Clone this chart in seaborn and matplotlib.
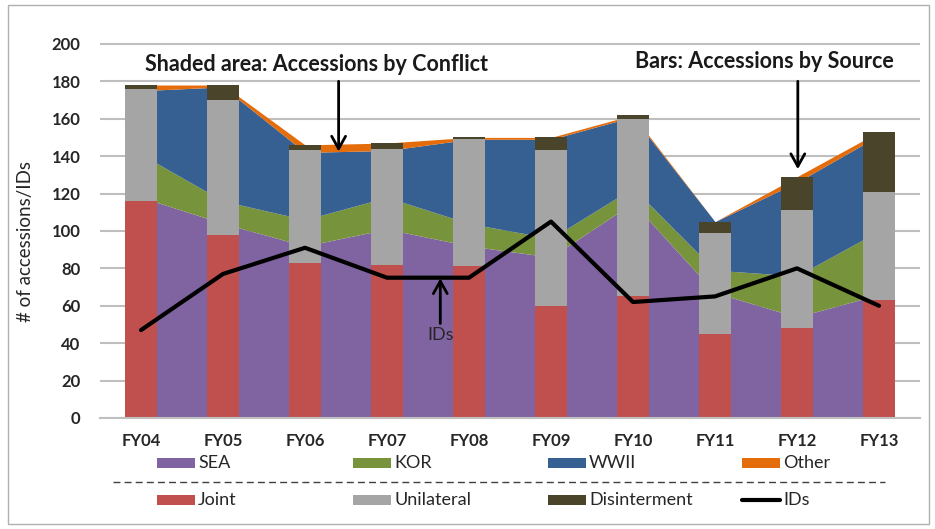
import numpy as np
import matplotlib
matplotlib.use("Agg")
import matplotlib.pyplot as plt
from matplotlib.patches import Rectangle
from matplotlib.lines import Line2D
import seaborn as sns

# values
years = ['FY04', 'FY05', 'FY06', 'FY07', 'FY08', 'FY09', 'FY10', 'FY11', 'FY12', 'FY13']

# shaded area: accessions by conflict
sea = [118, 104, 92, 101, 92, 86, 115, 67, 54, 66]
kor = [23, 12, 14, 17, 12, 10, 8, 12, 22, 34]
wwii = [34, 61, 36, 25, 45, 53, 38, 26, 50, 51]
other = [3, 1, 4, 4, 1, 1, 1, 0, 3, 2]

# bars: accessions by source
joint = [116, 98, 83, 82, 81, 60, 65, 45, 48, 63]
unilateral = [60, 72, 60, 62, 68, 83, 95, 54, 63, 58]
disinterment = [2, 8, 3, 3, 1, 7, 2, 6, 18, 32]

ids = [47, 77, 91, 75, 75, 105, 62, 65, 80, 60]

area_colors = ['#8064A2', '#77933C', '#376092', '#E46C0A']
bar_colors = ['#C0504D', '#A5A5A5', '#4A452A']

sns.set_theme(style="white")
plt.rcParams['font.family'] = ['Lato', 'DejaVu Sans']

fig = plt.figure(figsize=(9.35, 5.29), dpi=100)
ax = fig.add_axes([100 / 935, 111 / 529, 820 / 935, 376 / 529])

pos = np.arange(len(years))
ax.stackplot(pos, sea, kor, wwii, other, colors=area_colors, linewidth=0)

# stacked bars drawn tallest first so each shorter one sits in front
c1 = np.array(joint)
c2 = c1 + np.array(unilateral)
c3 = c2 + np.array(disinterment)
for heights, col in zip([c3, c2, c1], bar_colors[::-1]):
    sns.barplot(x=years, y=heights, color=col, width=0.4, saturation=1,
                linewidth=0, ax=ax)

sns.lineplot(x=pos, y=ids, color='black', linewidth=3, ax=ax, zorder=5)

ax.set_xlim(-0.5, 9.5)
ax.set_ylim(0, 201)
ax.set_yticks(range(0, 201, 20))
ax.set_axisbelow(True)
ax.yaxis.grid(True, color='#BFBFBF', linewidth=1.5)
for s in ['top', 'right', 'left']:
    ax.spines[s].set_visible(False)
ax.spines['bottom'].set_color('#BFBFBF')
ax.spines['bottom'].set_linewidth(1.5)

ax.tick_params(axis='y', length=0, pad=14, labelsize=12, labelcolor='#262626')
ax.tick_params(axis='x', length=0, pad=11, labelsize=12, labelcolor='#262626')
plt.setp(ax.get_xticklabels(), fontweight='bold')
plt.setp(ax.get_yticklabels(), fontweight='bold')
ax.set_xlabel('')
ax.set_ylabel('# of accessions/IDs', fontsize=13.5, color='#262626')
ax.yaxis.set_label_coords(-0.08, 0.47)

arrow = dict(arrowstyle='->,head_length=0.45,head_width=0.25', lw=2,
             color='black', shrinkA=0, shrinkB=0, mutation_scale=20)
ax.text(2.14, 189, 'Shaded area: Accessions by Conflict', ha='center', va='center',
        fontsize=15.5, fontweight='bold', color='#1a1a1a', zorder=6)
ax.text(7.6, 190.5, 'Bars: Accessions by Source', ha='center', va='center',
        fontsize=15.5, fontweight='bold', color='#1a1a1a', zorder=6)
ax.annotate('', xy=(2.41, 142.4), xytext=(2.41, 180), arrowprops=arrow, zorder=6)
ax.annotate('', xy=(8.01, 133), xytext=(8.01, 180), arrowprops=arrow, zorder=6)
ax.annotate('IDs', xy=(3.65, 74.7), xytext=(3.65, 44.5), ha='center', va='center',
            fontsize=13, color='#262626', arrowprops=arrow, zorder=6)

# legend: two rows split by a dashed line
rows = [
    (463, ['SEA', 'KOR', 'WWII', 'Other'], area_colors),
    (500, ['Joint', 'Unilateral', 'Disinterment', 'IDs'], bar_colors + ['black']),
]
col_x = [157, 353, 548, 742]
for y, labels, cols in rows:
    fy = (529 - y) / 529
    for x, lab, col in zip(col_x, labels, cols):
        if lab == 'IDs':
            fig.add_artist(Line2D([x / 935, (x + 38) / 935], [fy, fy], color=col, lw=3))
        else:
            fig.add_artist(Rectangle((x / 935, fy - 5 / 529), 38 / 935, 10 / 529,
                                     facecolor=col, edgecolor='none'))
        fig.text((x + 41) / 935, fy, lab, ha='left', va='center', fontsize=13,
                 color='#262626')

fig.add_artist(Line2D([113 / 935, 885 / 935], [(529 - 482) / 529] * 2,
                      color='#404040', lw=1, linestyle=(0, (5, 3))))
fig.add_artist(Rectangle((8 / 935, 5 / 529), 921 / 935, 519 / 529, fill=False,
                         edgecolor='#B0B0B0', lw=1))

fig.savefig('out.png', dpi=100)
